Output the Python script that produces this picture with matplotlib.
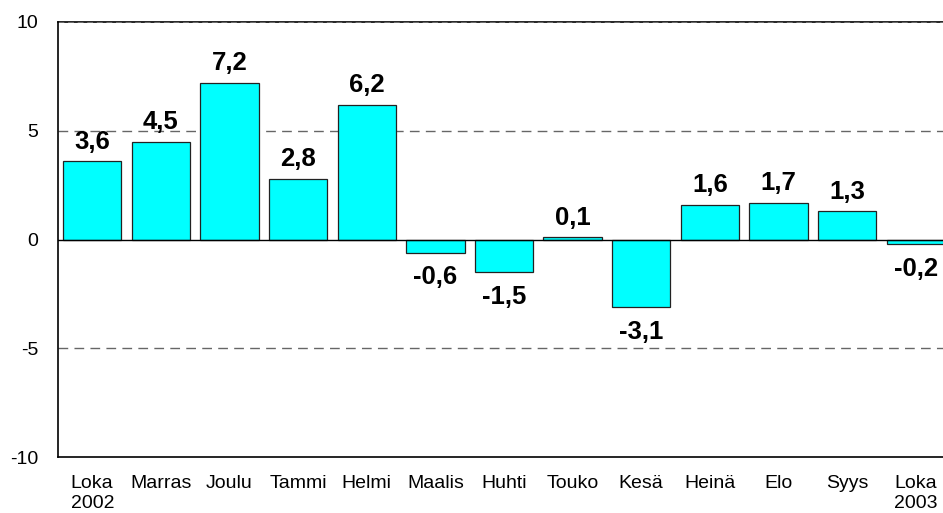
import matplotlib
matplotlib.use("Agg")
import matplotlib.pyplot as plt

categories = ["Loka\n2002", "Marras", "Joulu", "Tammi", "Helmi", "Maalis", "Huhti",
              "Touko", "Kesä", "Heinä", "Elo", "Syys", "Loka\n2003"]
values = [3.6, 4.5, 7.2, 2.8, 6.2, -0.6, -1.5, 0.1, -3.1, 1.6, 1.7, 1.3, -0.2]
yticks = [-10, -5, 0, 5, 10]

plt.rcParams['font.family'] = ['Liberation Sans', 'DejaVu Sans']

fig = plt.figure(figsize=(9.43, 5.13), dpi=100)
W, H = 943, 513
left, right, top, bottom = 58, 950, 22, 457
ax = fig.add_axes([left / W, 1 - bottom / H, (right - left) / W, (bottom - top) / H])

x = list(range(len(categories)))
ax.bar(x, values, width=0.85, color="#00FFFF", edgecolor="#222222", linewidth=0.9, zorder=3)
ax.set_xlim(-0.5, len(categories) - 0.5)
ax.set_ylim(-10, 10)

for yv in [5, -5]:
    ax.axhline(yv, color="#666666", linestyle=(0, (7, 4.5)), linewidth=1.0, zorder=1)
ax.axhline(10, color="black", linewidth=1.2, zorder=1, clip_on=False)
ax.axhline(10, color="#777777", linestyle=(0, (7, 4.5)), linewidth=0.6, zorder=2, clip_on=False)
ax.axhline(0, color="black", linewidth=1.0, zorder=4)

fs_val = 18.5
for xi, v in zip(x, values):
    lbl = f"{v:.1f}".replace(".", ",")
    if v >= 0:
        ax.annotate(lbl, (xi, v), xytext=(0, 9), textcoords="offset points",
                    ha="center", va="baseline", fontsize=fs_val, fontweight="bold", zorder=5)
    else:
        ax.annotate(lbl, (xi, v), xytext=(0, -23), textcoords="offset points",
                    ha="center", va="baseline", fontsize=fs_val, fontweight="bold", zorder=5)

ax.set_yticks(yticks)
ax.set_yticklabels([str(t) for t in yticks], fontsize=14)
ax.set_xticks(x)
ax.set_xticklabels(categories, fontsize=14, multialignment="left", linespacing=1.2)
ax.tick_params(axis="both", length=0)
ax.tick_params(axis="y", pad=14)
ax.tick_params(axis="x", pad=13)

for s in ["top", "right"]:
    ax.spines[s].set_visible(False)
for s in ["left", "bottom"]:
    ax.spines[s].set_color("black")
    ax.spines[s].set_linewidth(1.2)

fig.savefig("out.png", dpi=100)
